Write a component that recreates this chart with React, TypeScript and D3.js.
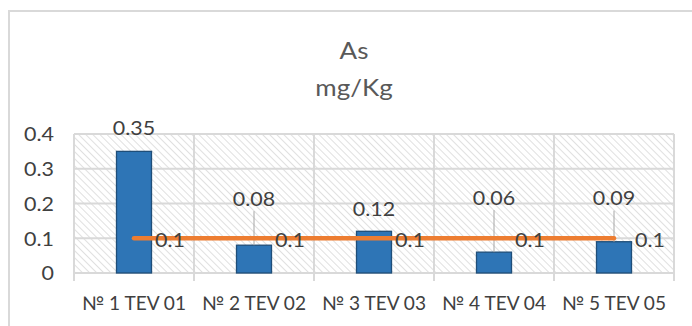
import React from "react";
import * as d3 from "d3";

const categories = ["№ 1 TEV 01", "№ 2 TEV 02", "№ 3 TEV 03", "№ 4 TEV 04", "№ 5 TEV 05"];
const barValues = [0.35, 0.08, 0.12, 0.06, 0.09];
const limitValues = [0.1, 0.1, 0.1, 0.1, 0.1];
const yTicks = [0, 0.1, 0.2, 0.3, 0.4];
const titleLines = ["As", "mg/Kg"];
const labelLift = [24, 47, 23, 55, 44];
const hasLeader = [false, true, false, true, true];

const W = 692;
const H = 326;
const M = { left: 74, right: 674, top: 134, bottom: 273 };
const FONT = "Lato, 'Open Sans', sans-serif";
const SX = 1.13;

function T(props: { x: number; y: number; anchor?: string; size?: number; fill?: string; children: React.ReactNode }) {
  const { x, y, anchor = "middle", size = 19, fill = "#404040", children } = props;
  return (
    <g transform={`translate(${x},${y}) scale(${SX},1)`}>
      <text x={0} y={0} textAnchor={anchor} dominantBaseline="central" fontFamily={FONT} fontSize={size} fill={fill}>
        {children}
      </text>
    </g>
  );
}

export default function App() {
  const x = d3.scaleBand<string>().domain(categories).range([M.left, M.right]).paddingInner(0).paddingOuter(0);
  const y = d3.scaleLinear().domain([0, 0.4]).range([M.bottom, M.top]);
  const bw = 35;
  const cx = (c: string) => (x(c) as number) + x.bandwidth() / 2;
  const line = d3
    .line<number>()
    .x((_, i) => cx(categories[i]))
    .y((d) => y(d));

  return (
    <svg width={W} height={H} style={{ position: "absolute", left: 0, top: 0, background: "#fff" }}>
      <defs>
        <pattern id="hatch" patternUnits="userSpaceOnUse" width="5" height="5" patternTransform="rotate(-45)">
          <rect width="5" height="5" fill="#fff" />
          <line x1="0" y1="0" x2="0" y2="5" stroke="#d6d6d6" strokeWidth="1.5" />
        </pattern>
      </defs>
      <rect x={0} y={0} width={W} height={H} fill="#fff" />
      <rect x={9} y={11} width={W + 10} height={H + 10} fill="#fff" stroke="#d9d9d9" strokeWidth={2} />
      {titleLines.map((t, i) => (
        <T key={t} x={354} y={50 + i * 37} size={23} fill="#595959">
          {t}
        </T>
      ))}
      <rect x={M.left} y={M.top} width={M.right - M.left} height={M.bottom - M.top} fill="url(#hatch)" />
      {yTicks.map((t) => (
        <line key={t} x1={M.left} x2={M.right} y1={y(t)} y2={y(t)} stroke="#d9d9d9" strokeWidth={2} />
      ))}
      {d3.range(categories.length + 1).map((i) => {
        const xx = M.left + i * x.bandwidth();
        return <line key={i} x1={xx} x2={xx} y1={M.top} y2={M.bottom + 8} stroke="#d9d9d9" strokeWidth={2} />;
      })}
      {yTicks.map((t) => (
        <T key={t} x={54} y={y(t)} anchor="end">
          {d3.format("")(t)}
        </T>
      ))}
      {barValues.map((v, i) => (
        <rect
          key={i}
          x={cx(categories[i]) - bw / 2}
          y={y(v)}
          width={bw}
          height={y(0) - y(v)}
          fill="#2E75B6"
          stroke="#1F4E79"
          strokeWidth={1.3}
        />
      ))}
      {barValues.map((v, i) =>
        hasLeader[i] ? (
          <line
            key={i}
            x1={cx(categories[i])}
            x2={cx(categories[i])}
            y1={y(v) - labelLift[i] + 13}
            y2={y(v)}
            stroke="#a6a6a6"
            strokeWidth={1}
          />
        ) : null
      )}
      {barValues.map((v, i) => (
        <T key={i} x={cx(categories[i])} y={y(v) - labelLift[i]}>
          {v}
        </T>
      ))}
      <path d={line(limitValues) as string} fill="none" stroke="#ED7D31" strokeWidth={4.5} strokeLinecap="round" />
      {limitValues.map((v, i) => (
        <T key={i} x={cx(categories[i]) + 21} y={y(v) + 1} anchor="start">
          {v}
        </T>
      ))}
      {categories.map((c) => (
        <text
          key={c}
          x={cx(c)}
          y={302}
          textAnchor="middle"
          dominantBaseline="central"
          fontFamily={FONT}
          fontSize={19}
          fill="#404040"
          textLength={104}
          lengthAdjust="spacingAndGlyphs"
        >
          {c}
        </text>
      ))}
    </svg>
  );
}
